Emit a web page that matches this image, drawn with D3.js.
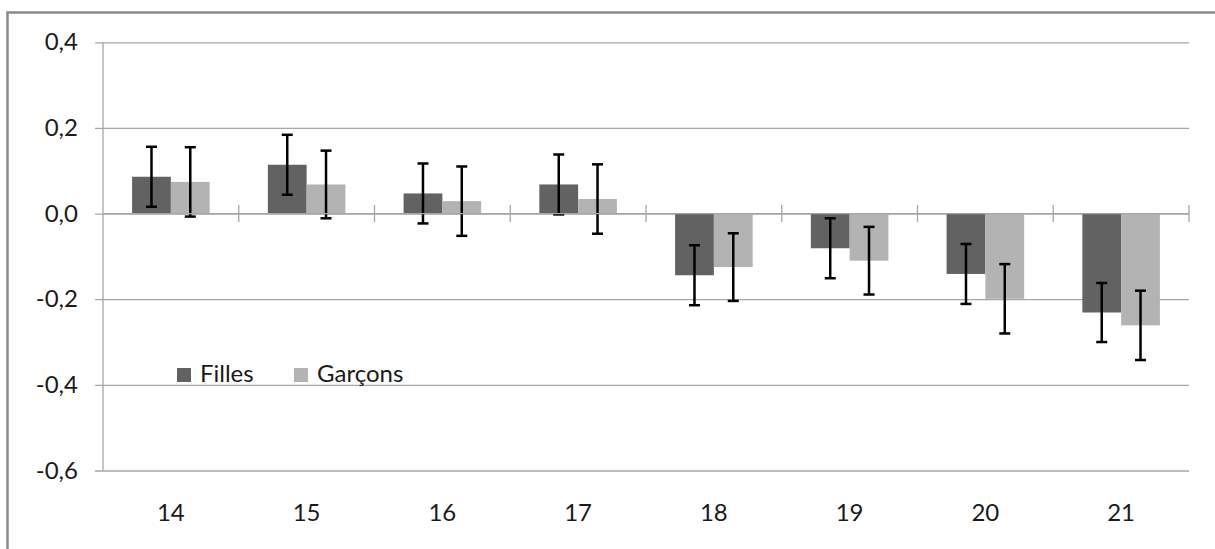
<!DOCTYPE html>
<html>
<head>
<meta charset="utf-8">
<script src="https://cdn.jsdelivr.net/npm/d3@7"></script>
<style>
  html, body { margin: 0; padding: 0; background: #fff; }
  svg { display: block; }
  text { font-family: Lato, "Open Sans", sans-serif; fill: #1a1a1a; }
</style>
</head>
<body>
<svg id="chart" width="1215" height="549"></svg>
<script>
// Age groups and mean scores by sex, with error half-widths
const categories = ["14", "15", "16", "17", "18", "19", "20", "21"];
const seriesNames = ["Filles", "Garçons"];
const filles = [0.086, 0.114, 0.047, 0.068, -0.144, -0.081, -0.141, -0.231];
const garcons = [0.074, 0.068, 0.029, 0.034, -0.125, -0.110, -0.199, -0.261];
const fillesErr = [0.070, 0.070, 0.070, 0.070, 0.070, 0.070, 0.070, 0.069];
const garconsErr = [0.081, 0.079, 0.081, 0.081, 0.079, 0.079, 0.081, 0.081];
const yTicks = [-0.6, -0.4, -0.2, 0.0, 0.2, 0.4];

const colors = { "Filles": "#626262", "Garçons": "#b3b3b3" };
const fontSize = 24;

const svg = d3.select("#chart");

// outer frame of the chart area
svg.append("rect")
  .attr("x", 7.5).attr("y", 12.5)
  .attr("width", 1240).attr("height", 600)
  .attr("fill", "none")
  .attr("stroke", "#8a8a8a")
  .attr("stroke-width", 2.5);

const plot = { left: 103, right: 1189, top: 42.3, bottom: 470.5 };

const x = d3.scaleBand().domain(categories).range([plot.left, plot.right]).padding(0);
const xs = d3.scaleBand().domain(seriesNames).range([0, x.bandwidth()])
  .paddingInner(0).paddingOuter(0.75);
const y = d3.scaleLinear().domain([-0.6, 0.4]).range([plot.bottom, plot.top]);

const fmt = v => d3.format(".1f")(v).replace(".", ",").replace("−", "-");

// horizontal gridlines with small outside ticks
const yAxis = d3.axisLeft(y).tickValues(yTicks).tickSize(-(plot.right - plot.left)).tickSizeOuter(0)
  .tickFormat(fmt).tickPadding(25);
const gy = svg.append("g").attr("transform", `translate(${plot.left},0)`).call(yAxis);
gy.select(".domain").remove();
gy.selectAll(".tick line")
  .attr("x1", -8)
  .attr("stroke", "#a6a6a6").attr("stroke-width", 1.3);
gy.selectAll(".tick text")
  .attr("font-size", fontSize).attr("fill", "#1a1a1a");

// vertical axis line
svg.append("line")
  .attr("x1", plot.left).attr("x2", plot.left)
  .attr("y1", plot.top).attr("y2", plot.bottom)
  .attr("stroke", "#a6a6a6").attr("stroke-width", 1.3);

// rows of data
const rows = categories.map((c, i) => ({
  cat: c,
  vals: [
    { s: "Filles", v: filles[i], e: fillesErr[i] },
    { s: "Garçons", v: garcons[i], e: garconsErr[i] }
  ]
}));

const groups = svg.append("g").selectAll("g")
  .data(rows).join("g")
  .attr("transform", d => `translate(${x(d.cat)},0)`);

groups.selectAll("rect")
  .data(d => d.vals).join("rect")
  .attr("x", d => xs(d.s))
  .attr("width", xs.bandwidth())
  .attr("y", d => y(Math.max(0, d.v)))
  .attr("height", d => Math.abs(y(d.v) - y(0)))
  .attr("fill", d => colors[d.s]);

// category axis on the zero line, ticks crossing it
const zeroY = y(0);
svg.append("line")
  .attr("x1", plot.left).attr("x2", plot.right)
  .attr("y1", zeroY).attr("y2", zeroY)
  .attr("stroke", "#a6a6a6").attr("stroke-width", 1.3);
const boundaries = categories.map(c => x(c) + x.bandwidth());
svg.append("g").selectAll("line")
  .data(boundaries).join("line")
  .attr("x1", d => d).attr("x2", d => d)
  .attr("y1", zeroY - 8.5).attr("y2", zeroY + 8.5)
  .attr("stroke", "#a6a6a6").attr("stroke-width", 1.3);

// error bars
const capW = 11;
const eb = groups.selectAll("g.err")
  .data(d => d.vals).join("g").attr("class", "err")
  .attr("stroke", "#000").attr("stroke-width", 2.5);
eb.append("line")
  .attr("x1", d => xs(d.s) + xs.bandwidth() / 2)
  .attr("x2", d => xs(d.s) + xs.bandwidth() / 2)
  .attr("y1", d => y(d.v + d.e)).attr("y2", d => y(d.v - d.e));
eb.append("line")
  .attr("x1", d => xs(d.s) + xs.bandwidth() / 2 - capW / 2)
  .attr("x2", d => xs(d.s) + xs.bandwidth() / 2 + capW / 2)
  .attr("y1", d => y(d.v + d.e)).attr("y2", d => y(d.v + d.e));
eb.append("line")
  .attr("x1", d => xs(d.s) + xs.bandwidth() / 2 - capW / 2)
  .attr("x2", d => xs(d.s) + xs.bandwidth() / 2 + capW / 2)
  .attr("y1", d => y(d.v - d.e)).attr("y2", d => y(d.v - d.e));

// category labels below the plot
svg.append("g").selectAll("text")
  .data(categories).join("text")
  .attr("x", d => x(d) + x.bandwidth() / 2)
  .attr("y", 521)
  .attr("text-anchor", "middle")
  .attr("font-size", fontSize)
  .text(d => d);

// legend
const legend = svg.append("g").attr("transform", "translate(177,368)");
const legendX = { "Filles": 0, "Garçons": 117 };
seriesNames.forEach(s => {
  const g = legend.append("g").attr("transform", `translate(${legendX[s]},0)`);
  g.append("rect").attr("width", 14).attr("height", 14).attr("fill", colors[s]);
  g.append("text").attr("x", 23).attr("y", 14).attr("font-size", fontSize).text(s);
});
</script>
</body>
</html>
